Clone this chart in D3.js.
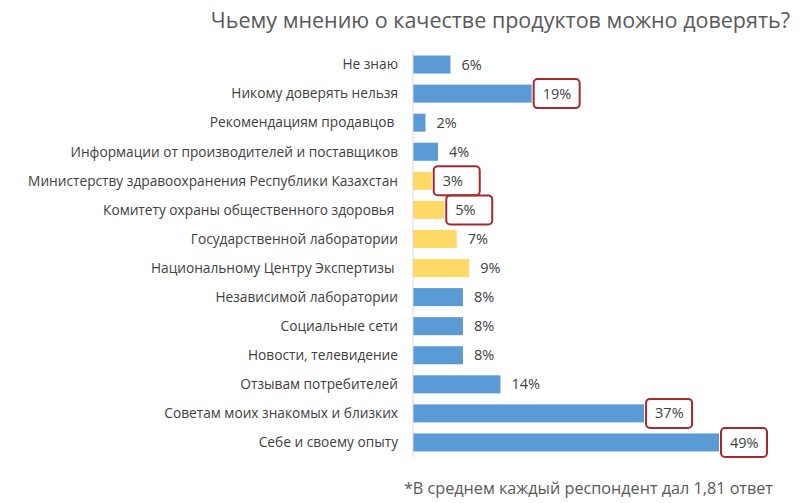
<!DOCTYPE html>
<html>
<head>
<meta charset="utf-8">
<script src="https://cdn.jsdelivr.net/npm/d3@7"></script>
<style>
  body { margin: 0; background: #fff; }
  svg { display: block; font-family: "Open Sans", sans-serif; }
</style>
</head>
<body>
<svg width="800" height="503"></svg>
<script>
// data
const categories = [
  "Не знаю",
  "Никому доверять нельзя",
  "Рекомендациям продавцов ",
  "Информации от производителей и поставщиков",
  "Министерству здравоохранения Республики Казахстан",
  "Комитету охраны общественного здоровья ",
  "Государственной лаборатории",
  "Национальному Центру Экспертизы ",
  "Независимой лаборатории",
  "Социальные сети",
  "Новости, телевидение",
  "Отзывам потребителей",
  "Советам моих знакомых и близких",
  "Себе и своему опыту"
];
const values = [6, 19, 2, 4, 3, 5, 7, 9, 8, 8, 8, 14, 37, 49];
// state bodies are coloured yellow
const groups = ["o", "o", "o", "o", "g", "g", "g", "g", "o", "o", "o", "o", "o", "o"];
const highlighted = ["Никому доверять нельзя", "Министерству здравоохранения Республики Казахстан",
  "Комитету охраны общественного здоровья ", "Советам моих знакомых и близких", "Себе и своему опыту"];

const svg = d3.select("svg");
const left = 413;

const x = d3.scaleLinear().domain([0, 49]).range([left, 719]);
const y = d3.scaleBand().domain(categories).range([50, 457]).paddingInner(0.38).paddingOuter(0.19);
const color = d3.scaleOrdinal().domain(["o", "g"]).range(["#5b9bd5", "#ffd966"]);

const rows = categories.map((c, i) => ({ name: c, value: values[i], group: groups[i] }));

// title
svg.append("text")
  .attr("x", 790).attr("y", 28)
  .attr("text-anchor", "end")
  .attr("fill", "#595959")
  .style("font-size", "21.5px")
  .text("Чьему мнению о качестве продуктов можно доверять?");

// bars
svg.selectAll(".bar")
  .data(rows)
  .enter().append("rect")
  .attr("class", "bar")
  .attr("x", x(0))
  .attr("y", d => y(d.name))
  .attr("width", d => x(d.value) - x(0))
  .attr("height", y.bandwidth())
  .attr("fill", d => color(d.group));

// axis line
svg.append("line")
  .attr("x1", left).attr("x2", left)
  .attr("y1", 50).attr("y2", 457)
  .attr("stroke", "#d9d9d9");

// category labels
svg.selectAll(".cat")
  .data(rows)
  .enter().append("text")
  .attr("class", "cat")
  .attr("x", 398)
  .attr("y", d => y(d.name) + y.bandwidth() / 2)
  .attr("dy", "0.35em")
  .attr("text-anchor", "end")
  .attr("fill", "#404040")
  .style("font-size", "13.7px")
  .style("white-space", "pre")
  .text(d => d.name);

// boxes around highlighted values
svg.selectAll(".box")
  .data(rows.filter(d => highlighted.includes(d.name)))
  .enter().append("rect")
  .attr("class", "box")
  .attr("x", d => x(d.value) + 2)
  .attr("y", d => y(d.name) + y.bandwidth() / 2 - 14.5)
  .attr("width", 46)
  .attr("height", 29)
  .attr("rx", 4)
  .attr("fill", "none")
  .attr("stroke", "#a5282f")
  .attr("stroke-width", 2);

// value labels
svg.selectAll(".val")
  .data(rows)
  .enter().append("text")
  .attr("class", "val")
  .attr("x", d => x(d.value) + 11)
  .attr("y", d => y(d.name) + y.bandwidth() / 2)
  .attr("dy", "0.35em")
  .attr("fill", "#404040")
  .style("font-size", "14.5px")
  .text(d => d.value + "%");

// footnote
svg.append("text")
  .attr("x", 773).attr("y", 494)
  .attr("text-anchor", "end")
  .attr("fill", "#595959")
  .style("font-size", "16.2px")
  .text("*В среднем каждый респондент дал 1,81 ответ");
</script>
</body>
</html>
